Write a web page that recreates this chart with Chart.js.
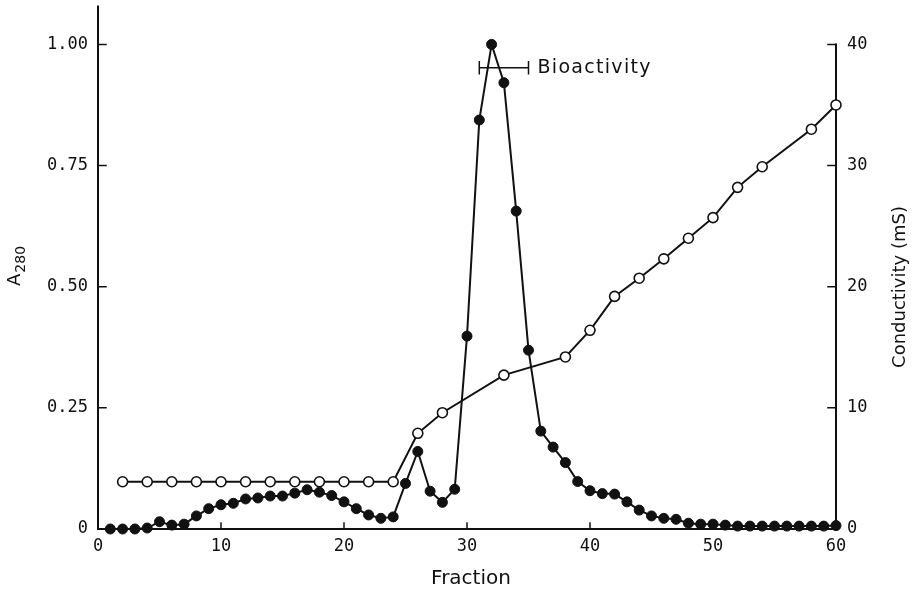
<!DOCTYPE html>
<html>
<head>
<meta charset="utf-8">
<script src="https://cdn.jsdelivr.net/npm/chart.js@4.4.1/dist/chart.umd.min.js"></script>
<style>
  html, body { margin: 0; padding: 0; background: #fff; }
  #wrap { width: 913px; height: 593px; position: relative; }
</style>
</head>
<body>
<div id="wrap"><canvas id="chart"></canvas></div>
<script>
// fractions collected (filled circles: A280)
const fractions = [
  1, 2, 3, 4, 5, 6, 7, 8, 9, 10,
  11, 12, 13, 14, 15, 16, 17, 18, 19, 20,
  21, 22, 23, 24, 25, 26, 27, 28, 29, 30,
  31, 32, 33, 34, 35, 36, 37, 38, 39, 40,
  41, 42, 43, 44, 45, 46, 47, 48, 49, 50,
  51, 52, 53, 54, 55, 56, 57, 58, 59, 60
];
const a280 = [
  0.000, 0.000, 0.000, 0.002, 0.015, 0.008, 0.010, 0.027, 0.042, 0.050,
  0.053, 0.062, 0.064, 0.068, 0.068, 0.074, 0.081, 0.076, 0.069, 0.056,
  0.042, 0.029, 0.022, 0.025, 0.094, 0.160, 0.078, 0.055, 0.082, 0.398,
  0.844, 1.000, 0.921, 0.656, 0.369, 0.202, 0.169, 0.137, 0.098, 0.079,
  0.073, 0.072, 0.056, 0.039, 0.027, 0.022, 0.020, 0.012, 0.010, 0.010,
  0.008, 0.006, 0.006, 0.006, 0.006, 0.006, 0.006, 0.006, 0.006, 0.007
];

// conductivity readings (open circles)
const condFractions = [2, 4, 6, 8, 10, 12, 14, 16, 18, 20, 22, 24, 26, 28, 33, 38, 40, 42, 44, 46, 48, 50, 52, 54, 58, 60];
const conductivity = [3.9, 3.9, 3.9, 3.9, 3.9, 3.9, 3.9, 3.9, 3.9, 3.9, 3.9, 3.9, 7.9, 9.6, 12.7, 14.2, 16.4, 19.2, 20.7, 22.3, 24.0, 25.7, 28.2, 29.9, 33.0, 35.0];

// bioactivity range bar
const bioRange = [31, 35];
const bioLevel = 0.952;
const bioLabel = "Bioactivity";

const xTicks = [0, 10, 20, 30, 40, 50, 60];
const leftTicks = [0, 0.25, 0.5, 0.75, 1.0];
const rightTicks = [0, 10, 20, 30, 40];

const INK = "#111";
const tickFont = { family: "DejaVu Sans Mono", size: 17 };
const leftMax = 1.078;
const rightMax = 40 * leftMax;

const setTicks = (values) => (axis) => {
  axis.ticks = values.map((v) => ({ value: v }));
};

const noPad = (axis) => {
  axis.paddingTop = 0;
  axis.paddingBottom = 0;
  axis.paddingLeft = 0;
  axis.paddingRight = 0;
};

const framePlugin = {
  id: "frame",
  beforeDatasetsDraw(chart) {
    const { ctx, chartArea, scales } = chart;
    const x = scales.x, y = scales.y, y2 = scales.y2;
    ctx.save();
    ctx.strokeStyle = INK;
    ctx.lineWidth = 2;
    ctx.lineCap = "square";
    ctx.beginPath();
    // left axis
    ctx.moveTo(chartArea.left, chartArea.top);
    ctx.lineTo(chartArea.left, chartArea.bottom);
    // bottom axis
    ctx.lineTo(chartArea.right, chartArea.bottom);
    // right axis up to 40
    ctx.lineTo(chartArea.right, y2.getPixelForValue(40));
    ctx.stroke();

    ctx.lineWidth = 1.5;
    ctx.beginPath();
    leftTicks.forEach((v) => {
      const p = y.getPixelForValue(v);
      ctx.moveTo(chartArea.left, p);
      ctx.lineTo(chartArea.left + 8, p);
    });
    rightTicks.forEach((v) => {
      const p = y2.getPixelForValue(v);
      ctx.moveTo(chartArea.right, p);
      ctx.lineTo(chartArea.right - 8, p);
    });
    xTicks.forEach((v) => {
      const p = x.getPixelForValue(v);
      ctx.moveTo(p, chartArea.bottom);
      ctx.lineTo(p, chartArea.bottom - 6);
    });
    ctx.stroke();

    // bioactivity bar
    const bx1 = x.getPixelForValue(bioRange[0]);
    const bx2 = x.getPixelForValue(bioRange[1]);
    const by = y.getPixelForValue(bioLevel);
    ctx.beginPath();
    ctx.moveTo(bx1, by);
    ctx.lineTo(bx2, by);
    ctx.moveTo(bx1, by - 6);
    ctx.lineTo(bx1, by + 6);
    ctx.moveTo(bx2, by - 6);
    ctx.lineTo(bx2, by + 6);
    ctx.stroke();
    ctx.restore();
  },
  afterDraw(chart) {
    const { ctx, chartArea, scales } = chart;
    const x = scales.x, y = scales.y;
    ctx.save();
    ctx.fillStyle = INK;

    // bioactivity label
    ctx.font = "19px 'DejaVu Sans'";
    ctx.letterSpacing = "1.3px";
    ctx.textAlign = "left";
    ctx.textBaseline = "middle";
    ctx.fillText(bioLabel, x.getPixelForValue(bioRange[1]) + 9, y.getPixelForValue(bioLevel));

    // x title
    ctx.letterSpacing = "0px";
    ctx.font = "20px 'DejaVu Sans'";
    ctx.textAlign = "center";
    ctx.fillText("Fraction", (chartArea.left + chartArea.right) / 2 + 4, 579);

    // right title, reading upward
    ctx.save();
    ctx.translate(900, 287);
    ctx.rotate(-Math.PI / 2);
    ctx.font = "18px 'DejaVu Sans'";
    ctx.fillText("Conductivity (mS)", 0, 0);
    ctx.restore();

    // left title A with subscript 280
    ctx.save();
    ctx.translate(20, 286);
    ctx.rotate(-Math.PI / 2);
    ctx.textAlign = "left";
    ctx.textBaseline = "alphabetic";
    ctx.font = "18px 'DejaVu Sans'";
    ctx.fillText("A", 0, 0);
    const wA = ctx.measureText("A").width;
    ctx.font = "14px 'DejaVu Sans'";
    ctx.fillText("280", wA + 1, 5);
    ctx.restore();

    ctx.restore();
  }
};

new Chart(document.getElementById("chart").getContext("2d"), {
  type: "line",
  data: {
    datasets: [
      {
        label: "A280",
        data: fractions.map((f, i) => ({ x: f, y: a280[i] })),
        yAxisID: "y",
        borderColor: INK,
        borderWidth: 2,
        pointRadius: 5,
        pointBackgroundColor: INK,
        pointBorderColor: INK,
        pointBorderWidth: 1,
        tension: 0,
        clip: false
      },
      {
        label: "Conductivity",
        data: condFractions.map((f, i) => ({ x: f, y: conductivity[i] })),
        yAxisID: "y2",
        borderColor: INK,
        borderWidth: 2,
        pointRadius: 5,
        pointBackgroundColor: "#fff",
        pointBorderColor: INK,
        pointBorderWidth: 1.6,
        tension: 0,
        clip: false
      }
    ]
  },
  options: {
    responsive: true,
    maintainAspectRatio: false,
    animation: false,
    layout: { padding: { top: 5, left: 0, right: 0, bottom: 0 } },
    plugins: {
      legend: { display: false },
      tooltip: { enabled: false }
    },
    scales: {
      x: {
        type: "linear",
        min: 0,
        max: 60,
        afterBuildTicks: setTicks(xTicks),
        afterFit(axis) { axis.height = 64; noPad(axis); },
        grid: { display: false, drawTicks: false },
        border: { display: false },
        ticks: { font: tickFont, color: INK, padding: 7, maxRotation: 0 }
      },
      y: {
        position: "left",
        min: 0,
        max: leftMax,
        afterBuildTicks: setTicks(leftTicks),
        afterFit(axis) { axis.width = 98; noPad(axis); },
        grid: { display: false, drawTicks: false },
        border: { display: false },
        ticks: {
          font: tickFont,
          color: INK,
          padding: 10,
          callback: (v) => (v === 0 ? "0" : v.toFixed(2))
        }
      },
      y2: {
        position: "right",
        min: 0,
        max: rightMax,
        afterBuildTicks: setTicks(rightTicks),
        afterFit(axis) { axis.width = 77; noPad(axis); },
        grid: { display: false, drawTicks: false },
        border: { display: false },
        ticks: { font: tickFont, color: INK, padding: 11 }
      }
    }
  },
  plugins: [framePlugin]
});
</script>
</body>
</html>
